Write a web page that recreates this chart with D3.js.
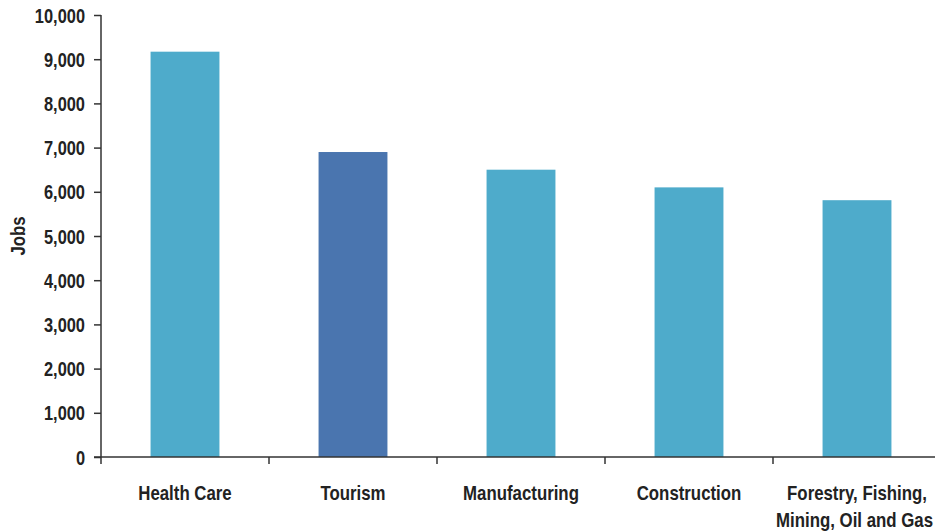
<!DOCTYPE html>
<html>
<head>
<meta charset="utf-8">
<script src="https://cdn.jsdelivr.net/npm/d3@7"></script>
<style>
  body { margin: 0; background: #fff; overflow: hidden; }
  svg { display: block; }
  text { font-family: "Liberation Sans Narrow", "Arial Narrow", "Liberation Sans", Arial, sans-serif; font-weight: bold; fill: #222; }
</style>
</head>
<body>
<svg id="chart" width="935" height="532"></svg>
<script>
const categories = ["Health Care", "Tourism", "Manufacturing", "Construction", "Forestry, Fishing,|Mining, Oil and Gas"];
const jobs = [9170, 6900, 6500, 6100, 5810];
const highlight = ["Tourism"];
const yTicks = [0, 1000, 2000, 3000, 4000, 5000, 6000, 7000, 8000, 9000, 10000];

const svg = d3.select("#chart");
const mLeft = 101, mRight = 941, mTop = 15, mBottom = 457;
const narrow = 0.82; // squeeze to look like Arial Narrow

const x = d3.scaleBand().domain(categories).range([mLeft, mRight]).paddingInner(0.59).paddingOuter(0.295);
const y = d3.scaleLinear().domain([0, 10000]).range([mBottom, mTop]);

// bars
svg.selectAll("rect.bar")
    .data(categories)
    .enter()
    .append("rect")
    .attr("class", "bar")
    .attr("x", d => x(d))
    .attr("width", x.bandwidth())
    .attr("y", (d, i) => y(jobs[i]))
    .attr("height", (d, i) => y(0) - y(jobs[i]))
    .attr("fill", d => highlight.includes(d) ? "#4a75af" : "#4eabcb");

// y axis
const yAxis = svg.append("g")
    .attr("transform", `translate(${mLeft},0)`)
    .call(d3.axisLeft(y).tickValues(yTicks).tickFormat(d3.format(",")).tickSize(7).tickPadding(9));
yAxis.selectAll("text").style("font-size", "20px").attr("dy", "0.35em");

// x axis: line + ticks at category boundaries
const step = x.step();
const bounds = d3.range(categories.length + 1).map(i => mLeft + i * step);
const xAxis = svg.append("g");
xAxis.append("line")
    .attr("x1", mLeft - 7).attr("x2", 935)
    .attr("y1", mBottom).attr("y2", mBottom);
xAxis.selectAll("line.tick")
    .data(bounds)
    .enter()
    .append("line")
    .attr("class", "tick")
    .attr("x1", d => d).attr("x2", d => d)
    .attr("y1", mBottom).attr("y2", mBottom + 7);
xAxis.selectAll("line").attr("stroke", "#333").attr("stroke-width", 1.5);
yAxis.selectAll("line, path").attr("stroke", "#333").attr("stroke-width", 1.5);
yAxis.select(".domain").attr("d", `M0,${mBottom}V${mTop}`);

// category labels
const labels = svg.selectAll("text.cat")
    .data(categories)
    .enter()
    .append("text")
    .attr("class", "cat")
    .attr("text-anchor", "middle")
    .attr("y", 500)
    .style("font-size", "20.5px");
labels.each(function(d) {
    const lines = d.split("|");
    d3.select(this).selectAll("tspan")
        .data(lines)
        .enter()
        .append("tspan")
        .attr("x", x(d) + x.bandwidth() / 2)
        .attr("y", (t, i) => 500 + i * 27)
        .text(t => t);
});

// y axis title
svg.append("text")
    .attr("transform", `translate(25,${(mTop + mBottom) / 2}) rotate(-90)`)
    .attr("text-anchor", "middle")
    .style("font-size", "20.5px")
    .text("Jobs");

// condense all text (no narrow font installed)
svg.selectAll("g.tick text, text.cat tspan, text:not(.cat)").each(function() {
    if (this.querySelector && this.querySelector("tspan")) return;
    const len = this.getComputedTextLength() * narrow;
    const sel = d3.select(this).attr("textLength", len).attr("lengthAdjust", "spacingAndGlyphs");
    // keep the wrapped last label inside the frame
    if (this.tagName === "tspan") {
        const cx = +sel.attr("x");
        if (cx + len / 2 > 933) sel.attr("x", 933 - len / 2);
    }
});
</script>
</body>
</html>
